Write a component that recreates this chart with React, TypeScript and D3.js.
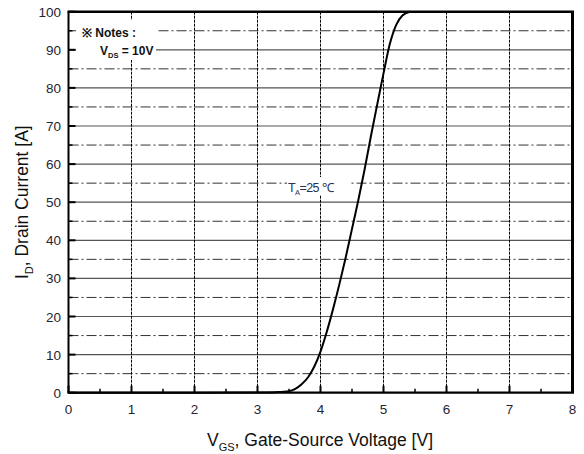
import React from "react";
import * as d3 from "d3";

const vgs = [0, 1, 2, 3, 3.3, 3.5, 3.6, 3.7, 3.8, 3.9, 4.0, 4.1, 4.2, 4.3, 4.4, 4.5, 4.6, 4.7, 4.8, 4.9, 5.0, 5.1, 5.2, 5.3, 5.42];
const idA = [0, 0, 0, 0.05, 0.15, 0.4, 1.0, 2.2, 4.0, 6.8, 10.8, 16, 22, 28.5, 35.5, 43, 50.5, 58.6, 67.3, 75.6, 83.8, 91.5, 96.5, 99, 100];
const xTicks = [0, 1, 2, 3, 4, 5, 6, 7, 8];
const yTicks = [0, 10, 20, 30, 40, 50, 60, 70, 80, 90, 100];
const xMinor = [0.5, 1.5, 2.5, 3.5, 4.5, 5.5, 6.5, 7.5];
const yMinor = [5, 15, 25, 35, 45, 55, 65, 75, 85, 95];

const W = 584, H = 454;
const L = 68.5, R = 572.5, T = 11.7, B = 392.7;

export default function App() {
  const x = d3.scaleLinear().domain([0, 8]).range([L, R]);
  const y = d3.scaleLinear().domain([0, 100]).range([B, T]);
  const pts: [number, number][] = vgs.map((v, i) => [v, idA[i]]);
  const line = d3.line<[number, number]>().x(d => x(d[0])).y(d => y(d[1])).curve(d3.curveMonotoneX);
  const font = "Liberation Sans, Arial, sans-serif";
  const labelColor = "#1f2433";
  return (
    <svg width={W} height={H} style={{ position: "absolute", left: 0, top: 0, background: "#fff" }} fontFamily={font}>
      <rect x={0} y={0} width={W} height={H} fill="#fff" />
      {/* horizontal minor dash-dot */}
      {yMinor.map(v => (
        <line key={"hm" + v} x1={L} x2={R} y1={y(v)} y2={y(v)} stroke="#333" strokeWidth={1} strokeDasharray="10,3,2,3" />
      ))}
      {/* horizontal major */}
      {yTicks.slice(1, -1).map(v => (
        <line key={"hM" + v} x1={L} x2={R} y1={y(v)} y2={y(v)} stroke="#555" strokeWidth={1.2} />
      ))}
      {/* vertical dashed */}
      {xTicks.slice(1, -1).map(v => (
        <line key={"v" + v} x1={x(v)} x2={x(v)} y1={T} y2={B} stroke="#000" strokeWidth={1} strokeDasharray="3,1" />
      ))}
      {/* notes background */}
      <rect x={76} y={20} width={80} height={40} fill="#fff" />
      <text x={82} y={37} fontSize={12} fontWeight="bold" fill="#111">※ Notes :</text>
      <text x={100} y={55} fontSize={12} fontWeight="bold" fill="#111">
        V<tspan fontSize={7.5} dy={3}>DS</tspan><tspan dy={-3}> = 10V</tspan>
      </text>
      {/* T_A label */}
      <rect x={287} y={177} width={62} height={18} fill="#fff" />
      <text x={288} y={192} fontSize={12.5} fill="#2a2f55" letterSpacing={-0.6}>
        T<tspan fontSize={7.5} dy={3}>A</tspan><tspan dy={-3}>=25 ℃</tspan>
      </text>
      {/* curve */}
      <path d={line(pts) ?? ""} fill="none" stroke="#000" strokeWidth={2} />
      {/* ticks */}
      {yTicks.map(v => (
        <line key={"yt" + v} x1={L} x2={L + 7} y1={y(v)} y2={y(v)} stroke="#000" strokeWidth={2} />
      ))}
      {yMinor.map(v => (
        <line key={"ymt" + v} x1={L} x2={L + 4} y1={y(v)} y2={y(v)} stroke="#000" strokeWidth={1.5} />
      ))}
      {xTicks.map(v => (
        <line key={"xt" + v} x1={x(v)} x2={x(v)} y1={B} y2={B - 7} stroke="#000" strokeWidth={2} />
      ))}
      {xMinor.map(v => (
        <line key={"xmt" + v} x1={x(v)} x2={x(v)} y1={B} y2={B - 4} stroke="#000" strokeWidth={1.5} />
      ))}
      {/* frame */}
      <line x1={L} x2={L} y1={T} y2={B} stroke="#000" strokeWidth={2} />
      <line x1={L - 1} x2={R + 1.5} y1={B} y2={B} stroke="#000" strokeWidth={2.2} />
      <line x1={L - 1} x2={R + 1.5} y1={T} y2={T} stroke="#000" strokeWidth={2.5} />
      <line x1={R} x2={R} y1={T} y2={B} stroke="#000" strokeWidth={3} />
      {/* tick labels */}
      {yTicks.map(v => (
        <text key={"yl" + v} x={61} y={y(v) + 5} fontSize={13.5} textAnchor="end" fill={labelColor}>{v}</text>
      ))}
      {xTicks.map(v => (
        <text key={"xl" + v} x={x(v)} y={414} fontSize={13.5} textAnchor="middle" fill={labelColor}>{v}</text>
      ))}
      {/* axis titles */}
      <text x={320} y={446} fontSize={17.5} textAnchor="middle" fill="#111">
        V<tspan fontSize={11} dy={5}>GS</tspan><tspan dy={-5}>, Gate-Source Voltage [V]</tspan>
      </text>
      <text transform={`translate(28,${(T + B) / 2}) rotate(-90)`} fontSize={17.5} textAnchor="middle" fill="#111">
        I<tspan fontSize={11} dy={5}>D</tspan><tspan dy={-5}>, Drain Current [A]</tspan>
      </text>
    </svg>
  );
}
